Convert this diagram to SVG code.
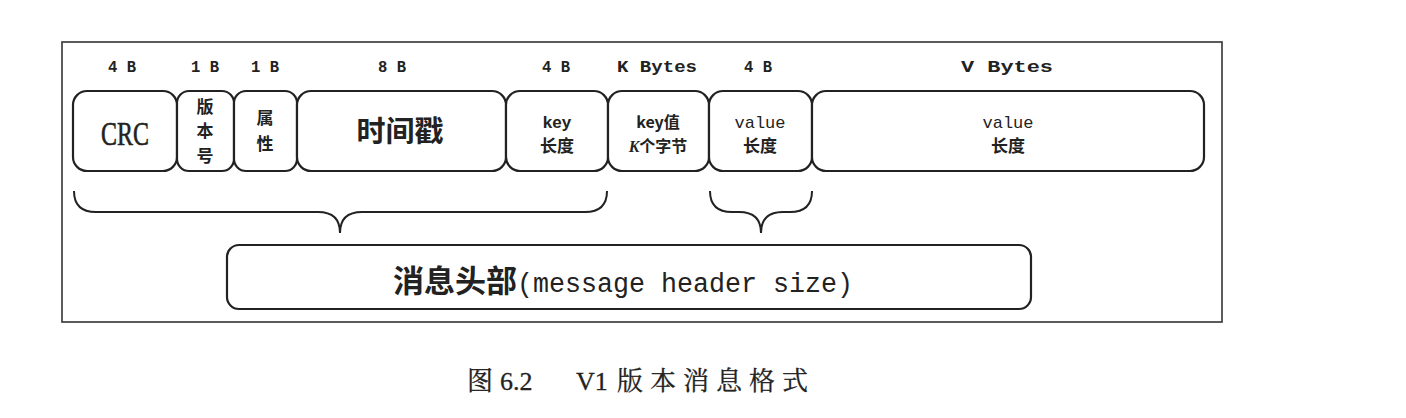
<svg xmlns="http://www.w3.org/2000/svg" width="1406" height="418" viewBox="0 0 1406 418">
<style>
.frame{fill:none;stroke:#333;stroke-width:1.6}
.box{fill:#fff;stroke:#222;stroke-width:2.2}
.brace{fill:none;stroke:#222;stroke-width:2}
.sz{font-family:"Liberation Mono",monospace;font-weight:bold;font-size:17px;fill:#222;text-anchor:middle}
.cn{font-family:"Noto Sans CJK SC",sans-serif;font-weight:bold;fill:#222;text-anchor:middle}
.mono{font-family:"Liberation Mono","Noto Sans CJK SC",monospace;fill:#222;text-anchor:middle}
.cap{font-family:"Liberation Serif","Noto Serif CJK SC","Noto Sans CJK SC",serif;font-size:26px;fill:#222;stroke:#222;stroke-width:0.3}
</style>
<rect width="1406" height="418" fill="#fff"/>
<rect class="frame" x="62" y="42" width="1160" height="280"/>
<g id="size-labels">
<text class="sz" x="122" y="72" textLength="28" lengthAdjust="spacingAndGlyphs">4 B</text>
<text class="sz" x="205" y="72" textLength="28" lengthAdjust="spacingAndGlyphs">1 B</text>
<text class="sz" x="265" y="72" textLength="28" lengthAdjust="spacingAndGlyphs">1 B</text>
<text class="sz" x="392" y="72" textLength="28" lengthAdjust="spacingAndGlyphs">8 B</text>
<text class="sz" x="556" y="72" textLength="28" lengthAdjust="spacingAndGlyphs">4 B</text>
<text class="sz" x="657" y="72" textLength="80" lengthAdjust="spacingAndGlyphs">K Bytes</text>
<text class="sz" x="758" y="72" textLength="28" lengthAdjust="spacingAndGlyphs">4 B</text>
<text class="sz" x="1007" y="72" textLength="92" lengthAdjust="spacingAndGlyphs">V Bytes</text>
</g>
<g id="crc"><rect class="box" x="73" y="91" width="104" height="80" rx="14"/>
<text x="125" y="145" font-family="Liberation Serif,serif" font-size="34" fill="#222" stroke="#222" stroke-width="0.6" text-anchor="middle" textLength="48" lengthAdjust="spacingAndGlyphs">CRC</text></g>
<g id="version"><rect class="box" x="177" y="91" width="57" height="80" rx="12"/>
<text class="cn" font-size="17" x="205" y="113">版</text>
<text class="cn" font-size="17" x="205" y="137">本</text>
<text class="cn" font-size="17" x="205" y="162">号</text></g>
<g id="attr"><rect class="box" x="234" y="91" width="63" height="80" rx="12"/>
<text class="cn" font-size="17" x="265" y="124">属</text>
<text class="cn" font-size="17" x="265" y="150">性</text></g>
<g id="timestamp"><rect class="box" x="297" y="91" width="209" height="80" rx="14"/>
<text class="cn" font-size="29" x="400" y="142">时间戳</text></g>
<g id="keylen"><rect class="box" x="506" y="91" width="102" height="80" rx="14"/>
<text x="557" y="128" font-family="Liberation Sans,sans-serif" font-weight="bold" font-size="17" fill="#222" text-anchor="middle">key</text>
<text class="cn" font-size="17" x="557" y="152">长度</text></g>
<g id="keyval"><rect class="box" x="608" y="91" width="101" height="80" rx="14"/>
<text class="cn" font-size="16" x="658" y="128">key值</text>
<text class="cn" font-size="16" x="658" y="152"><tspan font-style="italic" font-family="Liberation Serif,serif">K</tspan>个字节</text></g>
<g id="valuelen"><rect class="box" x="709" y="91" width="103" height="80" rx="14"/>
<text class="mono" font-size="17" x="760" y="128">value</text>
<text class="cn" font-size="17" x="760" y="152">长度</text></g>
<g id="value"><rect class="box" x="812" y="91" width="392" height="80" rx="14"/>
<text class="mono" font-size="17" x="1008" y="128">value</text>
<text class="cn" font-size="17" x="1008" y="152">长度</text></g>
<g id="connectors">
<path class="brace" d="M74,191 Q74,212 96,212 L318,212 Q340,212 340,233 Q340,212 362,212 L585,212 Q607,212 607,191"/>
<path class="brace" d="M710,191 Q710,212 732,212 L739,212 Q761,212 761,233 Q761,212 783,212 L790,212 Q812,212 812,191"/>
</g>
<g id="header"><rect class="box" x="227" y="245" width="804" height="64" rx="12"/>
<text x="393" y="292" fill="#222"><tspan font-family="Noto Sans CJK SC,sans-serif" font-weight="bold" font-size="31">消息头部</tspan><tspan font-family="Liberation Mono,monospace" font-size="27" textLength="336" lengthAdjust="spacingAndGlyphs">(message header size)</tspan></text></g>
<g id="caption">
<text class="cap" x="467" y="390">图</text>
<text class="cap" x="500" y="390">6.2</text>
<text class="cap" x="576" y="390">V1</text>
<text class="cap" x="617" y="390" letter-spacing="7">版本消息格式</text>
</g>
</svg>
